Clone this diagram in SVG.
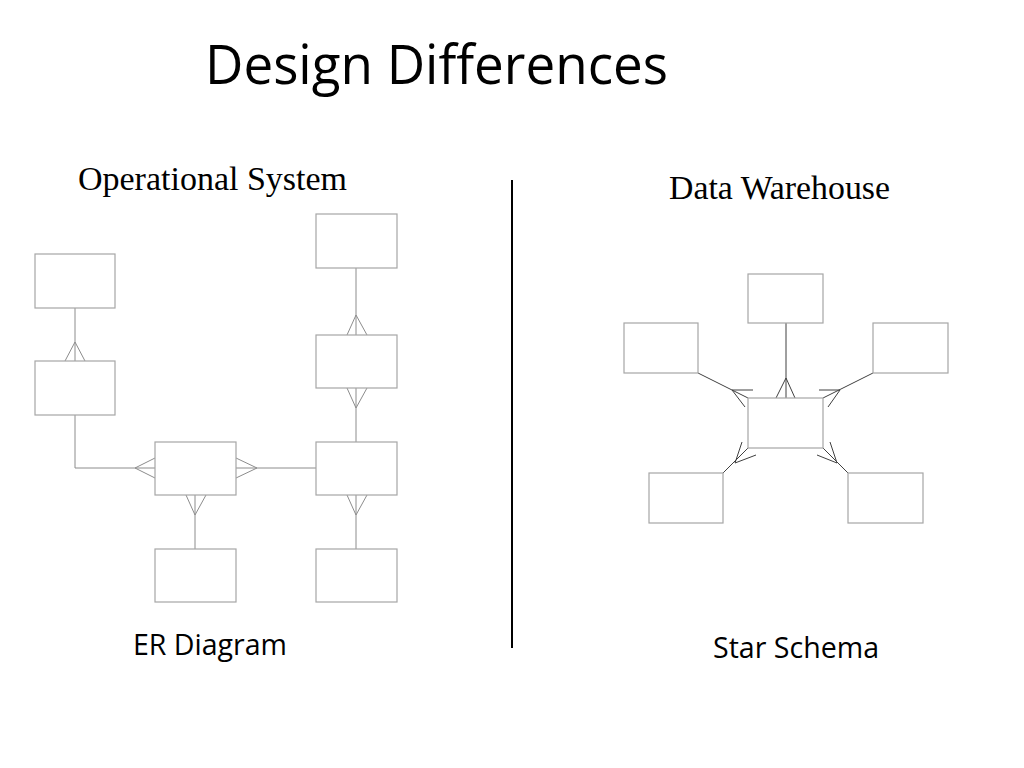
<svg xmlns="http://www.w3.org/2000/svg" width="1024" height="768" viewBox="0 0 1024 768">
<style>
.box{fill:#fff;stroke:#a6a6a6;stroke-width:1.2}
.er{fill:none;stroke:#8c8c8c;stroke-width:1}
.st{fill:none;stroke:#404040;stroke-width:1}
.sans{font-family:"Open Sans","Liberation Sans",sans-serif;fill:#000}
.serif{font-family:"Liberation Serif","Times New Roman",serif;fill:#000}
</style>
<rect width="1024" height="768" fill="#fff"/>
<text class="sans" x="205" y="84" font-size="54" textLength="463" lengthAdjust="spacingAndGlyphs">Design Differences</text>
<text class="serif" x="78" y="190" font-size="33" textLength="269" lengthAdjust="spacingAndGlyphs">Operational System</text>
<text class="serif" x="669" y="199" font-size="33" textLength="221" lengthAdjust="spacingAndGlyphs">Data Warehouse</text>
<text class="sans" x="133" y="655" font-size="30" textLength="154" lengthAdjust="spacingAndGlyphs">ER Diagram</text>
<text class="sans" x="713" y="658" font-size="30" textLength="166" lengthAdjust="spacingAndGlyphs">Star Schema</text>
<line x1="512" y1="180" x2="512" y2="648" stroke="#000" stroke-width="2"/>
<g id="connectors">
<g id="er-connectors">
<path class="er" d="M75,308 V361 M65,361 L75,342 L85,361"/>
<path class="er" d="M75,415 V468 H155 M155,458 L135,468 L155,478"/>
<path class="er" d="M236,468 H316 M236,458 L257,468 L236,478"/>
<path class="er" d="M356,268 V335 M347,335 L356,315 L367,335"/>
<path class="er" d="M356,388 V442 M347,388 L356,408 L367,388"/>
<path class="er" d="M356,495 V549 M347,495 L356,515 L367,495"/>
<path class="er" d="M195,495 V549 M186,495 L195,515 L206,495"/>
</g>
<g id="star-connectors">
<path class="st" d="M786,323 V398 M776,398 L786,378 L795,398"/>
<path class="st" d="M698,373 L748,398 M753,390 L732,390 L745,407"/>
<path class="st" d="M873,373 L823,398 M819,390 L840,390 L828,407"/>
<path class="st" d="M723,473 L748,448 M742,442 L735,463 L756,455"/>
<path class="st" d="M848,473 L823,448 M830,442 L837,463 L817,455"/>
</g>
</g>
<g id="er-a"><rect class="box" x="35" y="254" width="80" height="54"/></g>
<g id="er-b"><rect class="box" x="35" y="361" width="80" height="54"/></g>
<g id="er-c"><rect class="box" x="155" y="442" width="81" height="53"/></g>
<g id="er-h"><rect class="box" x="155" y="549" width="81" height="53"/></g>
<g id="er-f"><rect class="box" x="316" y="214" width="81" height="54"/></g>
<g id="er-e"><rect class="box" x="316" y="335" width="81" height="53"/></g>
<g id="er-d"><rect class="box" x="316" y="442" width="81" height="53"/></g>
<g id="er-g"><rect class="box" x="316" y="549" width="81" height="53"/></g>
<g id="star-top"><rect class="box" x="748" y="274" width="75" height="49"/></g>
<g id="star-left"><rect class="box" x="624" y="323" width="74" height="50"/></g>
<g id="star-right"><rect class="box" x="873" y="323" width="75" height="50"/></g>
<g id="star-center"><rect class="box" x="748" y="398" width="75" height="50"/></g>
<g id="star-bl"><rect class="box" x="649" y="473" width="74" height="50"/></g>
<g id="star-br"><rect class="box" x="848" y="473" width="75" height="50"/></g>
</svg>
